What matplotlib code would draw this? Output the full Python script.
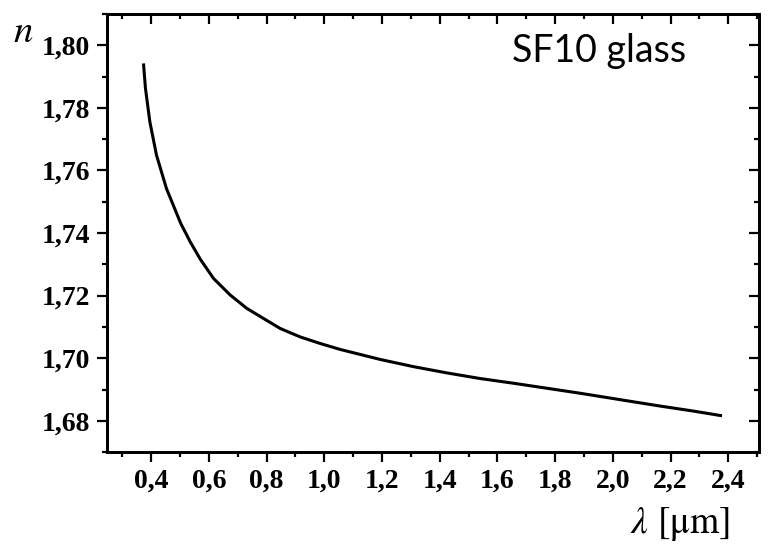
import numpy as np
import matplotlib
matplotlib.use('Agg')
import matplotlib.pyplot as plt
from matplotlib.ticker import MultipleLocator, FuncFormatter

# Valores (longitud de onda en um, indice n)
lam = [0.3733, 0.3802, 0.3955, 0.4184, 0.4530, 0.5023, 0.5352, 0.5698, 0.6159, 0.6738,
       0.7317, 0.7893, 0.8471, 0.9165, 0.9858, 1.0551, 1.1244, 1.1938, 1.3092, 1.4250,
       1.5404, 1.6558, 1.7716, 1.8870, 2.0489, 2.1643, 2.2797, 2.3781]
n_idx = [1.7942, 1.7862, 1.7755, 1.7649, 1.7542, 1.7431, 1.7372, 1.7317, 1.7255, 1.7202,
         1.7159, 1.7127, 1.7095, 1.7068, 1.7047, 1.7028, 1.7012, 1.6996, 1.6973, 1.6953,
         1.6935, 1.6920, 1.6904, 1.6888, 1.6864, 1.6847, 1.6831, 1.6816]

plt.rcParams['mathtext.fontset'] = 'stix'

fig = plt.figure(figsize=(7.7, 5.48), dpi=100)
ax = fig.add_axes([0.139, 0.175, 0.847, 0.7995])

ax.plot(lam, n_idx, color='black', lw=2.2, solid_joinstyle='round', solid_capstyle='butt')

ax.set_xlim(0.247, 2.507)
ax.set_ylim(1.67, 1.81)

ax.xaxis.set_major_locator(MultipleLocator(0.2))
ax.xaxis.set_minor_locator(MultipleLocator(0.1))
ax.yaxis.set_major_locator(MultipleLocator(0.02))
ax.yaxis.set_minor_locator(MultipleLocator(0.01))
ax.xaxis.set_major_formatter(FuncFormatter(lambda v, p: ('%.1f' % v).replace('.', ',')))
ax.yaxis.set_major_formatter(FuncFormatter(lambda v, p: ('%.2f' % v).replace('.', ',')))

for s in ax.spines.values():
    s.set_linewidth(2.0)

ax.tick_params(which='major', direction='out', length=7.2, width=1.6, pad=5,
               labelsize=20, labelfontfamily='Liberation Serif')
ax.tick_params(which='minor', direction='out', length=3.6, width=1.6)
for lab in ax.get_xticklabels() + ax.get_yticklabels():
    lab.set_fontweight('bold')

# ticks hacia adentro arriba y a la derecha
axt = ax.twiny()
axt.set_xlim(ax.get_xlim())
axt.xaxis.set_major_locator(MultipleLocator(0.2))
axt.xaxis.set_minor_locator(MultipleLocator(0.1))
axt.tick_params(which='major', direction='in', length=7.2, width=1.6, labeltop=False)
axt.tick_params(which='minor', direction='in', length=3.6, width=1.6)
axr = ax.twinx()
axr.set_ylim(ax.get_ylim())
axr.yaxis.set_major_locator(MultipleLocator(0.02))
axr.yaxis.set_minor_locator(MultipleLocator(0.01))
axr.tick_params(which='major', direction='in', length=7.2, width=1.6, labelright=False)
axr.tick_params(which='minor', direction='in', length=3.6, width=1.6)
for a in (axt, axr):
    for s in a.spines.values():
        s.set_linewidth(2.0)

ax.text(0.621, 0.890, 'SF10 glass', transform=ax.transAxes, fontfamily='Lato',
        fontsize=27, ha='left', va='baseline')

fig.text(0.030, 0.943, r'$n$', fontsize=28, ha='center', va='center')
fig.text(0.948, 0.027, r'$\lambda$ [μm]', fontfamily='STIXGeneral',
         fontsize=27, ha='right', va='baseline')

fig.savefig('out.png', dpi=100)
